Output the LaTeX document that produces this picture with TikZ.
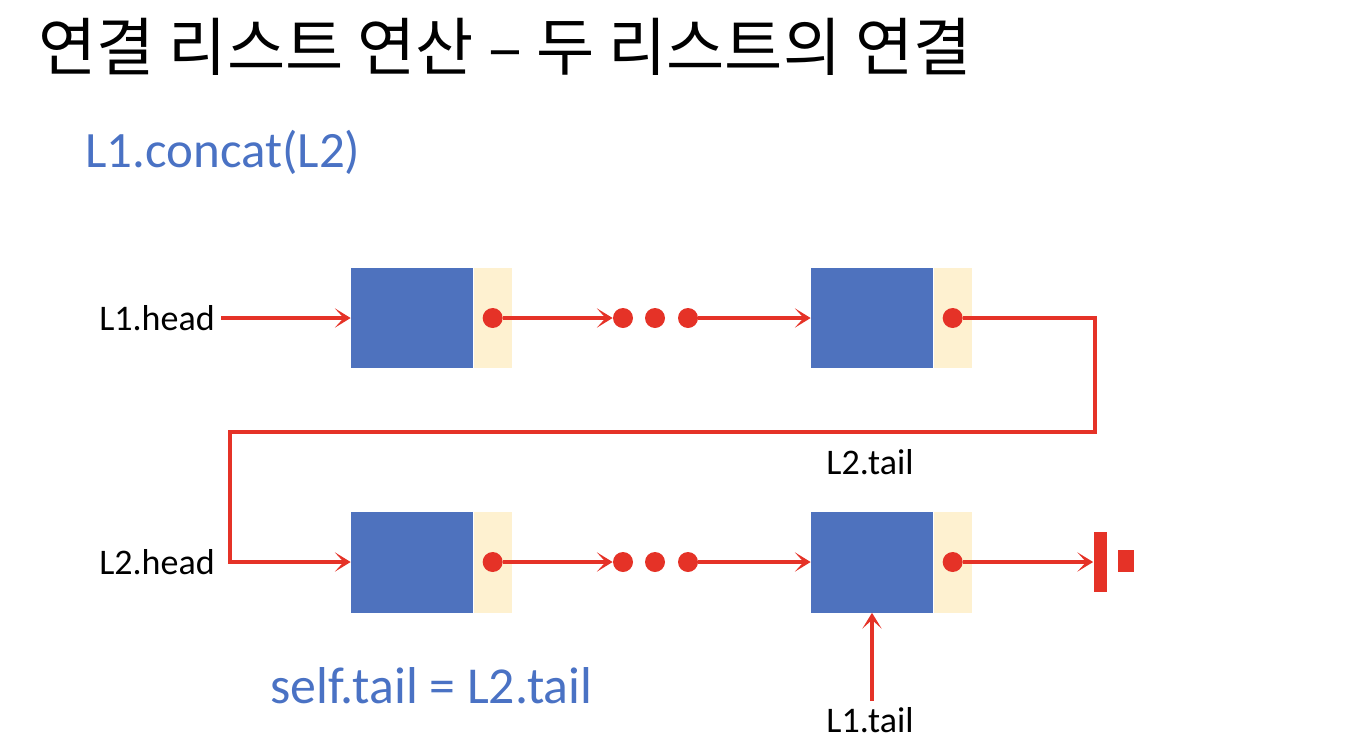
\documentclass[tikz,border=0pt]{standalone}
\usepackage{fontspec}
\setmainfont{Carlito}
\newfontfamily\kofont{Noto Sans CJK KR}
\usetikzlibrary{arrows.meta,positioning}

\definecolor{cellblue}{HTML}{4E72BE}
\definecolor{cellcream}{HTML}{FEF1D0}
\definecolor{linkred}{HTML}{E53227}
\definecolor{codeblue}{HTML}{4A72C4}

\tikzset{
  datacell/.style={fill=cellblue,minimum width=2.44cm,minimum height=2.02cm,inner sep=0pt},
  linkcell/.style={fill=cellcream,minimum width=0.76cm,minimum height=2.02cm,inner sep=0pt},
  reddot/.style={circle,fill=linkred,minimum size=0.4cm,inner sep=0pt},
  ptr/.style={draw=linkred,line width=2.1pt,-{Stealth[length=9pt,width=11pt,inset=5pt]}},
  lbl/.style={font=\fontsize{20.5}{24}\selectfont}
}

\begin{document}
\begin{tikzpicture}[x=0.02cm,y=-0.02cm]
  \useasboundingbox (0,0) rectangle (1350,748);
  % title
  \node[anchor=west,inner sep=0pt,font=\kofont\fontsize{36}{42}\selectfont] (title) at (38,47) {연결 리스트 연산 – 두 리스트의 연결};
  \node[anchor=west,inner sep=0pt,text=codeblue,font=\fontsize{29}{34}\selectfont] (call) at (85,152) {L1.concat(L2)};

  % list L1
  \node[datacell] (a1) at (412,318) {};
  \node[linkcell,right=0pt of a1] (p1) {};
  \node[reddot] (d1) at (p1.center) {};
  \node[datacell] (a2) at (872,318) {};
  \node[linkcell,right=0pt of a2] (p2) {};
  \node[reddot] (d2) at (p2.center) {};
  \foreach \i/\X in {1/623,2/655,3/688}
    \node[reddot] (e\i) at (\X,318) {};

  % list L2
  \node[datacell] (b1) at (412,562) {};
  \node[linkcell,right=0pt of b1] (q1) {};
  \node[reddot] (g1) at (q1.center) {};
  \node[datacell] (b2) at (872,562) {};
  \node[linkcell,right=0pt of b2] (q2) {};
  \node[reddot] (g2) at (q2.center) {};
  \foreach \i/\X in {1/623,2/655,3/688}
    \node[reddot] (f\i) at (\X,562) {};

  % null
  \node[fill=linkred,minimum width=0.26cm,minimum height=1.2cm,inner sep=0pt] (gnd) at (1100,562) {};
  \node[fill=linkred,minimum width=0.32cm,minimum height=0.44cm,inner sep=0pt] (gnd2) at (1126,561) {};

  % labels
  \node[lbl,anchor=east] (h1) at (221,318) {L1.head};
  \node[lbl,anchor=east] (h2) at (221,562) {L2.head};
  \node[lbl] (t2) at (870,462) {L2.tail};
  \node[lbl] (t1) at (870,720) {L1.tail};
  \node[anchor=west,inner sep=0pt,text=codeblue,font=\fontsize{29.5}{34}\selectfont] (upd) at (270,686) {self.tail = L2.tail};

  % links
  \coordinate (r1) at (1095,432);
  \coordinate (l1) at (230,432);
  \draw[ptr] (h1) -- (a1.west);
  \draw[ptr] (d1) -- (e1);
  \draw[ptr] (e3) -- (a2.west);
  \draw[ptr] (d2) -| (r1) -- (l1) |- (b1.west);
  \draw[ptr] (g1) -- (f1);
  \draw[ptr] (f3) -- (b2.west);
  \draw[ptr] (g2) -- (gnd.west);
  \draw[ptr] (t1.north -| b2.south) -- (b2.south);
\end{tikzpicture}
\end{document}
